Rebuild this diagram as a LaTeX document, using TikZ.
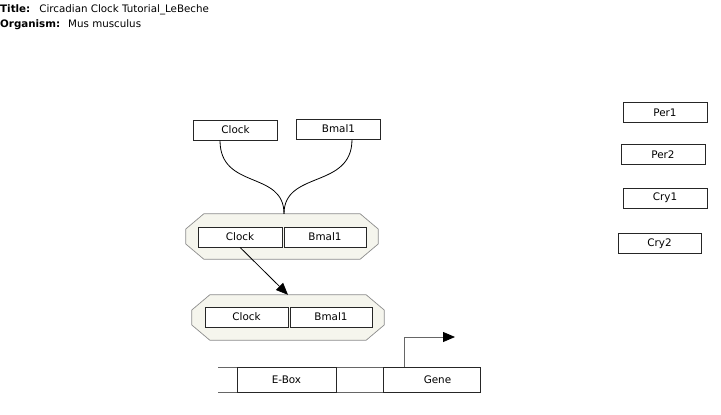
\documentclass[tikz,border=0pt]{standalone}
\usepackage{fontspec}
\setmainfont{DejaVu Sans}
\usepackage{tikz}
\usetikzlibrary{arrows.meta,positioning}
\definecolor{cplxfill}{RGB}{245,245,237}
\tikzset{
	genebox/.style={draw=black!85, fill=white, line width=0.7pt, align=center,
		inner sep=2pt, minimum width=84pt, minimum height=20pt,
		font=\fontsize{10.4}{12}\selectfont},
	complex/.style={rectangle, minimum width=192pt, minimum height=45pt, inner sep=0pt},
	cplxshape/.style={draw=black!45, fill=cplxfill, line width=0.7pt},
	binding/.style={line width=0.8pt},
	mimarrow/.style={-{Triangle[length=12pt,width=10pt]}, line width=0.8pt},
	dnaline/.style={draw=black!60, line width=0.8pt},
	infolabel/.style={anchor=west, inner sep=0pt, font=\fontsize{10.3}{12}\selectfont}
}
\begin{document}
\begin{tikzpicture}[x=1pt, y=-1pt]
	\useasboundingbox (0,0) rectangle (721,415);
	
	%% -- header
	\begin{scope}
		\clip (0,0) rectangle (210,40);
		\node[infolabel] (title) at (0,10)
		{\textbf{Title:}\hspace{9pt}Circadian Clock Tutorial\_LeBeche};
		\node[infolabel] (organism) at (0,25)
		{\textbf{Organism:}\hspace{8pt}Mus musculus};
	\end{scope}
	
	%% -- free monomers
	\node[genebox] (clockT) at (235.5,130) {Clock};
	\node[genebox] (bmalT) at (338.5,129) {Bmal1};
	
	%% -- first complex
	\node[complex] (cplxA) at (282,236.5) {};
	\draw[cplxshape] ([xshift=18pt]cplxA.north west) -- ([xshift=-18pt]cplxA.north east)
	-- ([yshift=7.5pt]cplxA.east) -- ([yshift=-7.5pt]cplxA.east)
	-- ([xshift=-18pt]cplxA.south east) -- ([xshift=18pt]cplxA.south west)
	-- ([yshift=-7.5pt]cplxA.west) -- ([yshift=7.5pt]cplxA.west) -- cycle;
	\node[genebox] (clockA) at (240,237) {Clock};
	\node[genebox, minimum width=82pt] (bmalA) at (325,237) {Bmal1};
	
	%% -- second complex
	\node[complex] (cplxB) at (288,317.5) {};
	\draw[cplxshape] ([xshift=18pt]cplxB.north west) -- ([xshift=-18pt]cplxB.north east)
	-- ([yshift=7.5pt]cplxB.east) -- ([yshift=-7.5pt]cplxB.east)
	-- ([xshift=-18pt]cplxB.south east) -- ([xshift=18pt]cplxB.south west)
	-- ([yshift=-7.5pt]cplxB.west) -- ([yshift=7.5pt]cplxB.west) -- cycle;
	\node[genebox, minimum width=83pt] (clockB) at (246.5,317) {Clock};
	\node[genebox, minimum width=82pt] (bmalB) at (331,317) {Bmal1};
	
	%% -- binding curves
	\draw[binding] ([xshift=-15.5pt]clockT.south) .. controls ++(0,50) and (284,170) .. ([xshift=2pt]cplxA.north);
	\draw[binding] ([xshift=13.5pt]bmalT.south) .. controls ++(0,50) and (284,170) .. ([xshift=2pt]cplxA.north);
	
	%% -- translocation
	\draw[mimarrow] (clockA.south) -- (cplxB.north);
	
	%% -- promoter region
	\coordinate (dnaL) at (218,367);
	\coordinate (dnaR) at (480,367);
	\draw[dnaline] (dnaL) -- (dnaR);
	\draw[dnaline] ([yshift=-25pt]dnaL) -- ([yshift=-25pt]dnaR);
	\node[genebox, minimum width=99pt, minimum height=25pt] (ebox) at (286.5,379.5) {E-Box};
	\node[genebox, minimum width=97pt, minimum height=25pt] (gene) at (431.5,379.5) {\hspace{12pt}Gene};
	\coordinate (tss) at (455,337);
	\draw[mimarrow, draw=black!60, -{Triangle[length=12pt,width=10pt,black]}]
	([xshift=22pt]gene.north west) |- (tss);
	
	%% -- other clock genes
	\node[genebox] (per1) at (665,112.5) {Per1};
	\node[genebox] (per2) at (663,154.5) {Per2};
	\node[genebox] (cry1) at (665,198) {Cry1};
	\node[genebox, minimum width=83pt] (cry2) at (659.5,243.5) {Cry2};
\end{tikzpicture}
\end{document}
